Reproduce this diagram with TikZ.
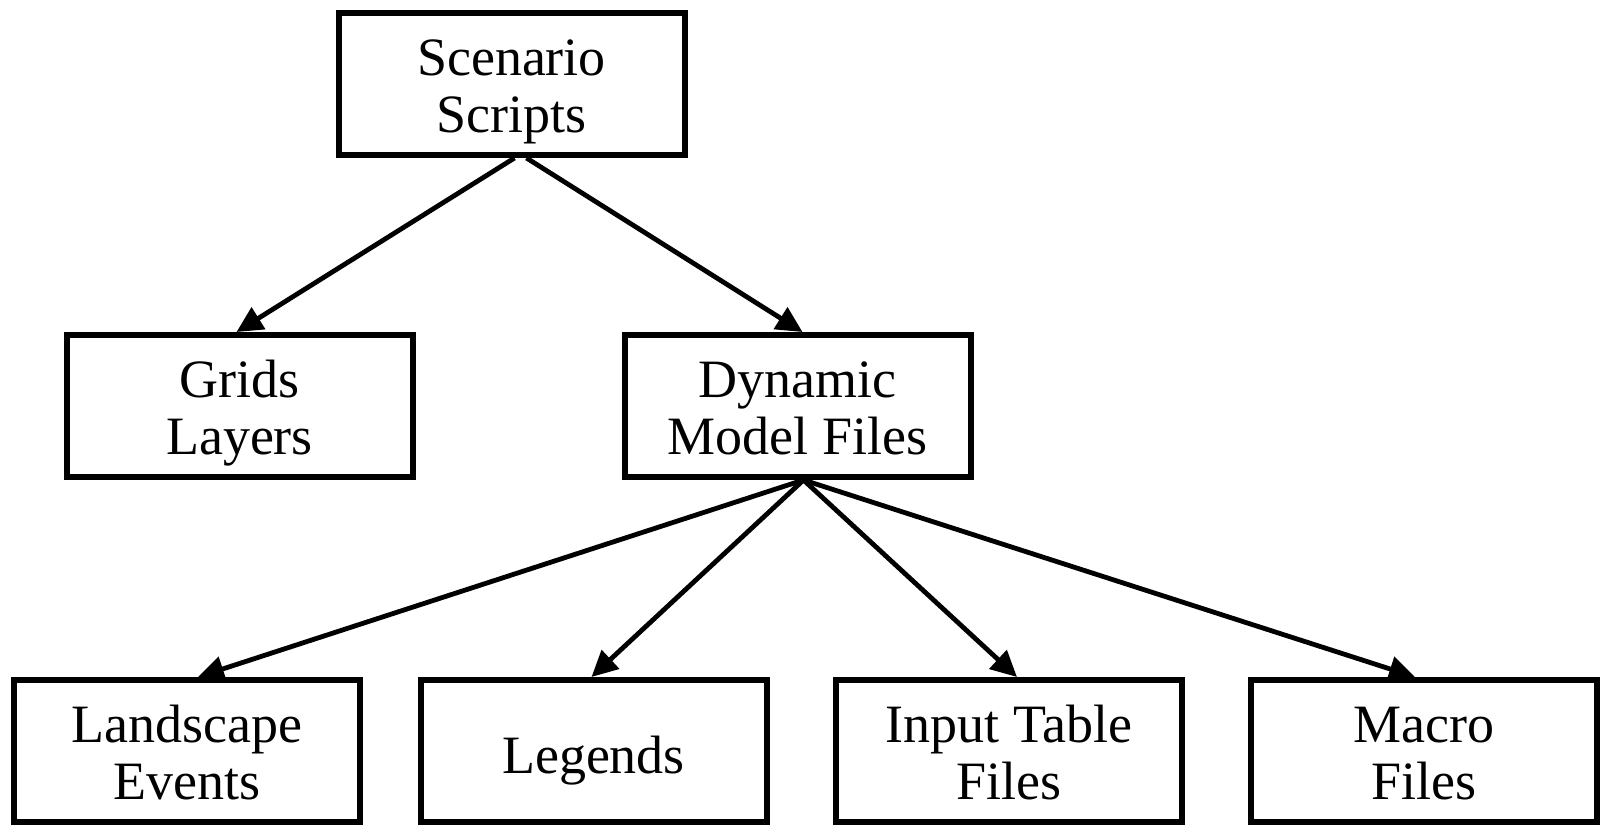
\documentclass[tikz,border=0pt]{standalone}
\usepackage{fontspec}
\setmainfont{Liberation Serif}
\usetikzlibrary{arrows.meta}
\begin{document}
\begin{tikzpicture}[x=0.5pt,y=-0.5pt,
  box/.style={draw, rectangle, line width=3pt, minimum width=173pt, minimum height=71pt,
    inner sep=0pt, align=center, font=\fontsize{27}{28.5}\selectfont,
    text height=50pt, text depth=1.5pt},
  box1/.style={box, text height=24pt, text depth=1.5pt},
  conn/.style={line width=2.4pt, -{Triangle[length=13pt,width=12.5pt]}}]
\useasboundingbox (0,0) rectangle (1602,828);
\node[box] (S) at (511.5,84) {Scenario\\Scripts};
\node[box] (G) at (239.5,406) {Grids\\Layers};
\node[box] (D) at (797.5,406) {Dynamic\\Model Files};
\node[box] (L) at (187,751) {Landscape\\Events};
\node[box1] (Le) at (593.5,751) {Legends};
\node[box] (I) at (1009,751) {Input Table\\Files};
\node[box] (M) at (1424,751) {Macro\\Files};
\draw[conn] ([xshift=1.5pt]S.south) -- ([xshift=-1.5pt]G.north);
\draw[conn] ([xshift=7.5pt]S.south) -- ([xshift=2.5pt]D.north);
\draw[conn] ([xshift=3pt]D.south) -- ([xshift=5.5pt]L.north);
\draw[conn] ([xshift=3pt]D.south) -- ([xshift=-1pt]Le.north);
\draw[conn] ([xshift=3pt]D.south) -- ([xshift=4pt]I.north);
\draw[conn] ([xshift=3pt]D.south) -- ([xshift=-4.5pt]M.north);
\end{tikzpicture}
\end{document}
